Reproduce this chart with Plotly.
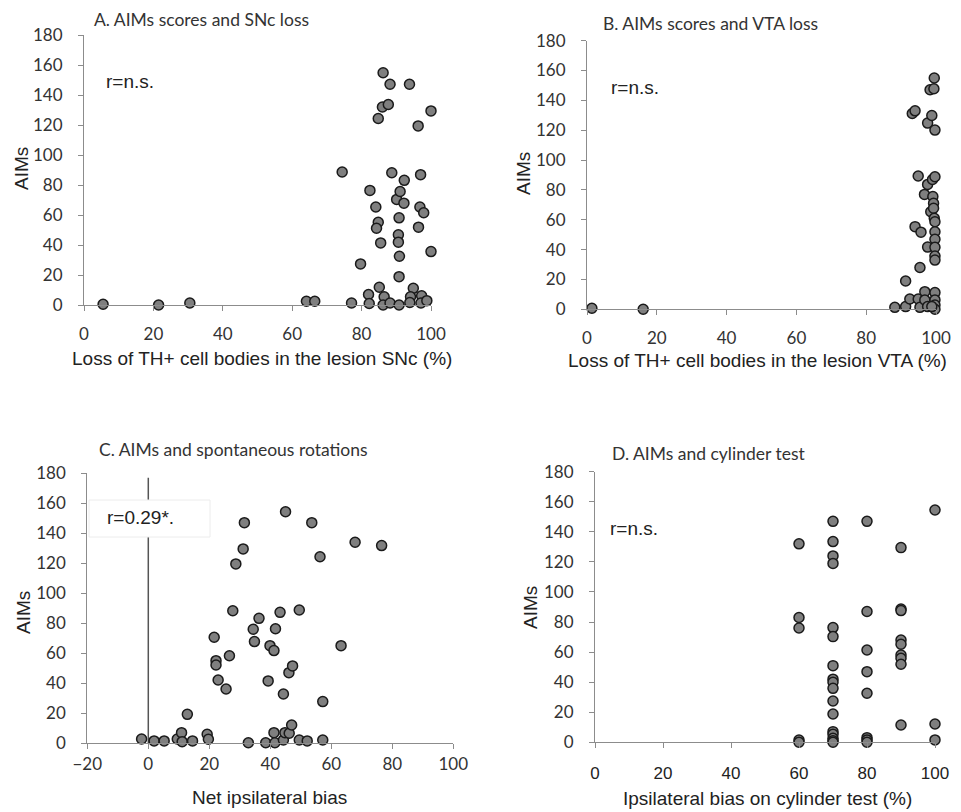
import plotly.graph_objects as go

W, H = 961, 812
OFF = 8  # page body margin seen in the screenshot

# ---------- data ----------
snc_loss = [5.5, 21.5, 30.5, 64.1, 66.5, 74.4, 77.1, 79.7, 82.4, 82.0, 82.2, 84.1, 84.8, 84.3, 85.5,
            85.1, 84.8, 86.0, 87.7, 86.2, 88.2, 86.5, 86.2, 88.2, 88.7, 90.1, 91.1, 92.2, 92.3, 90.8,
            90.6, 90.6, 90.9, 90.8, 90.8, 93.8, 96.3, 100.0, 97.0, 96.8, 97.9, 96.4, 100.0, 94.9,
            94.1, 93.9, 97.3, 97.1, 98.8]
snc_aims = [0.5, 0, 1.3, 2.5, 2.5, 88.7, 1.3, 27.4, 76.4, 7.0, 1.0, 65.3, 55.2, 51.2, 41.4,
            11.8, 124.3, 132.0, 133.7, 154.8, 147.2, 5.5, 0, 1.3, 88.2, 70.4, 75.7, 67.9, 83.1, 58.1,
            46.8, 41.9, 32.5, 18.9, 0, 147.2, 119.4, 129.4, 86.9, 65.3, 61.5, 51.9, 35.6, 11.1,
            5.5, 1.7, 6.2, 1.3, 2.9]

vta_loss = [1.4, 16.1, 88.2, 91.3, 91.3, 92.5, 93.2, 94.0, 94.0, 94.9, 94.9, 95.4, 95.4, 95.7,
            96.7, 96.8, 96.8, 97.6, 97.6, 97.6, 97.6, 98.3, 98.5, 98.8, 99.0, 99.4, 99.5, 99.7,
            99.7, 99.1, 99.3, 99.3, 99.5, 99.7, 99.7, 99.7, 99.7, 99.7, 99.7, 99.7, 99.7, 99.7,
            99.7, 98.8]
vta_aims = [0.7, 0, 1.3, 19.0, 1.8, 6.9, 131.2, 133.0, 55.4, 89.3, 6.9, 1.3, 28.0, 51.7,
            77.0, 11.8, 6.3, 41.7, 83.7, 124.8, 1.8, 147.1, 65.4, 129.9, 87.0, 147.8, 155.0, 120.1,
            88.8, 75.6, 71.0, 67.7, 61.0, 58.7, 52.0, 46.9, 41.5, 35.7, 33.0, 11.2, 6.3, 2.9,
            0, 1.8]

rot_bias = [-2.2, 1.9, 5.2, 9.5, 10.9, 11.1, 14.5, 12.8, 19.3, 19.7, 21.6, 22.2, 22.2, 22.9,
            25.5, 26.6, 27.7, 28.7, 31.1, 31.5, 32.8, 34.4, 34.8, 36.3, 38.5, 39.3, 39.9, 41.2,
            41.7, 41.2, 41.5, 43.2, 44.3, 44.3, 45.0, 44.8, 46.2, 46.1, 47.3, 47.0, 49.5, 49.5,
            52.1, 53.6, 56.3, 57.2, 57.2, 63.2, 67.8, 76.5]
rot_aims = [2.9, 1.6, 1.6, 2.9, 7.1, 1.1, 1.6, 19.3, 6.0, 2.7, 70.7, 55.1, 52.2, 42.2,
            36.2, 58.4, 88.4, 119.6, 129.6, 147.1, 0.4, 76.0, 67.8, 83.3, 0.4, 41.6, 65.1, 61.8,
            76.4, 7.1, 0.4, 87.3, 2.2, 32.9, 154.4, 7.1, 6.7, 47.1, 51.6, 12.2, 88.9, 2.2,
            1.6, 147.1, 124.4, 27.8, 2.2, 65.1, 134.0, 131.8]

cyl_bias = [60, 60, 60, 60, 60,
            70, 70, 70, 70, 70, 70, 70, 70, 70, 70, 70, 70, 70, 70, 70, 70, 70,
            80, 80, 80, 80, 80, 80, 80, 80,
            90, 90, 90, 90, 90, 90, 90, 90, 90,
            100, 100, 100]
cyl_aims = [132, 83, 76, 1.5, 0,
            147, 133.5, 124, 119, 76.3, 70.3, 51, 42, 40, 35.9, 27.5, 18.8, 7.1, 5.3, 2.7, 1.1, 0,
            147, 87, 61.4, 47, 32.6, 3.1, 1.6, 0,
            129.5, 88.7, 87.6, 68, 65.2, 58.1, 55.9, 51.9, 11.5,
            154.5, 12.2, 1.6]

titles = ["A. AIMs scores and SNc loss", "B. AIMs scores and VTA loss",
          "C. AIMs and spontaneous rotations", "D. AIMs and cylinder test"]
xtitles = ["Loss of TH+ cell bodies in the lesion SNc (%)",
           "Loss of TH+ cell bodies in the lesion VTA (%)",
           "Net ipsilateral bias", "Ipsilateral bias on cylinder test (%)"]
rlabels = ["r=n.s.", "r=n.s.", "r=0.29*.", "r=n.s."]
ytitle = "AIMs"


# ---------- layout helpers (screen-pixel positions -> paper fractions) ----------
def fx(px):
    return (px - OFF) / W


def fy(py):
    return 1 - (py - OFF) / H


boxes = [  # left, right, top, bottom in screen pixels
    (84, 431, 35, 305),
    (587, 936, 40.7, 309.3),
    (87.3, 453.3, 473.3, 743.3),
    (595, 935, 471.7, 742.3),
]
xranges = [[0, 100], [0, 100], [-20, 100], [0, 100]]
xstandoff = [8, 8, 0, 10]

fig = go.Figure()
datasets = [(snc_loss, snc_aims), (vta_loss, vta_aims), (rot_bias, rot_aims), (cyl_bias, cyl_aims)]

calib = dict(family="Lato, Carlito, sans-serif", size=17, color="#333")
arialtick = dict(family="Liberation Sans, Arial, sans-serif", size=17, color="#222")
axcol = "#8c8c8c"

for i, (xs, ys) in enumerate(datasets):
    n = "" if i == 0 else str(i + 1)
    fig.add_trace(go.Scatter(
        x=xs, y=ys, mode="markers", xaxis="x" + n, yaxis="y" + n,
        cliponaxis=False, showlegend=False, hoverinfo="skip",
        marker=dict(size=10, color="#7f7f7f", line=dict(color="#1a1a1a", width=1.5)),
    ))
    l, r, t, b = boxes[i]
    fig.layout["xaxis" + n] = dict(
        domain=[fx(l), fx(r)], range=xranges[i], anchor="y" + n, automargin=False,
        dtick=20, showgrid=False, zeroline=False, showline=True, linecolor=axcol, linewidth=1.2,
        ticks="outside", ticklen=5, tickcolor=axcol,
        tickfont=arialtick if i == 3 else calib, ticklabelstandoff=xstandoff[i],
    )
    fig.layout["yaxis" + n] = dict(
        domain=[fy(b), fy(t)], range=[0, 180], anchor="x" + n, automargin=False,
        dtick=20, showgrid=False, zeroline=False, showline=True, linecolor=axcol, linewidth=1.2,
        ticks="outside", ticklen=5, tickcolor=axcol, tickfont=calib, ticklabelstandoff=12,
    )

# vertical line at x=0 in panel C
fig.add_shape(type="line", xref="x3", yref="y3", x0=0, x1=0, y0=0, y1=177,
              line=dict(color="#555", width=1.5), layer="below")
# white label box over it
fig.add_shape(type="rect", xref="paper", yref="paper", x0=fx(89), x1=fx(210), y0=fy(537), y1=fy(500),
              fillcolor="white", line=dict(color="#ececec", width=1), layer="above")

title_pos = [(92, 20), (601, 24), (97, 449), (610, 453)]
r_pos = [(104, 81), (609, 88), (105, 518), (608, 528)]
ytitle_pos = [(21, 169), (523, 174), (23, 613), (530, 608)]
xtitle_pos = [(262, 358), (757, 361), (269, 797), (767, 798)]

titlefont = dict(family="Lato, Carlito, sans-serif", size=17.5, color="#333")
arial = dict(family="Liberation Sans, Arial, sans-serif", size=19, color="#222")

for i in range(4):
    x, y = title_pos[i]
    fig.add_annotation(text=titles[i], x=fx(x), y=fy(y), xref="paper", yref="paper",
                       xanchor="left", yanchor="middle", showarrow=False, font=titlefont)
    x, y = r_pos[i]
    fig.add_annotation(text=rlabels[i], x=fx(x), y=fy(y), xref="paper", yref="paper",
                       xanchor="left", yanchor="middle", showarrow=False, font=arial)
    x, y = ytitle_pos[i]
    fig.add_annotation(text=ytitle, x=fx(x), y=fy(y), xref="paper", yref="paper",
                       xanchor="center", yanchor="middle", showarrow=False, textangle=-90, font=arial)
    x, y = xtitle_pos[i]
    fig.add_annotation(text=xtitles[i], x=fx(x), y=fy(y), xref="paper", yref="paper",
                       xanchor="center", yanchor="middle", showarrow=False, font=arial)

fig.update_layout(width=W, height=H, margin=dict(l=0, r=0, t=0, b=0, autoexpand=False),
                  paper_bgcolor="white", plot_bgcolor="white")

fig.write_html("out.html")
